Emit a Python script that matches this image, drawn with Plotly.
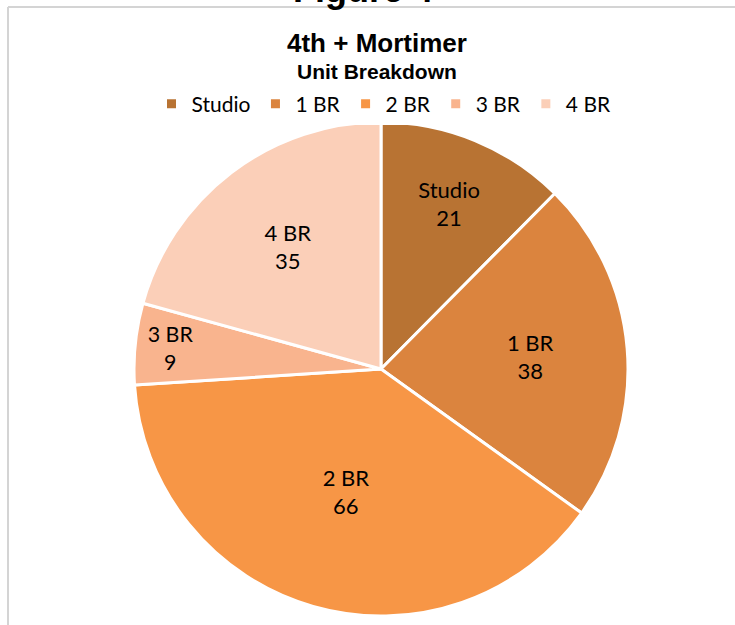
import plotly.graph_objects as go

categories = ["Studio", "1 BR", "2 BR", "3 BR", "4 BR"]
units = [21, 38, 66, 9, 35]
colors = ["#B87333", "#DB843E", "#F79646", "#F9B48E", "#FBCFB8"]

W, H = 735, 625

def px(x):
    return x / W

def py(y):
    return 1 - y / H

LABEL_FONT = "Lato, Carlito, Calibri, sans-serif"
TITLE_FONT = "Liberation Sans, Arial, sans-serif"

fig = go.Figure()
fig.add_trace(go.Pie(
    labels=categories,
    values=units,
    sort=False,
    direction="clockwise",
    rotation=0,
    marker=dict(colors=colors, line=dict(color="white", width=3)),
    texttemplate="%{label}<br>%{value}",
    textposition="inside",
    insidetextorientation="horizontal",
    textfont=dict(family=LABEL_FONT, size=22, color="black"),
    domain=dict(x=[px(134), px(628)], y=[py(616), py(122)]),
    hoverinfo="label+value",
))

fig.update_layout(
    width=W, height=H,
    margin=dict(l=0, r=0, t=0, b=0),
    paper_bgcolor="white",
    plot_bgcolor="white",
    showlegend=True,
    legend=dict(
        orientation="h",
        x=px(384), xanchor="center",
        y=py(104), yanchor="middle",
        font=dict(family=LABEL_FONT, size=21, color="black"),
        itemwidth=30,
        traceorder="normal",
    ),
    shapes=[
        dict(type="line", xref="paper", yref="paper", x0=px(8), x1=1.02, y0=py(7), y1=py(7),
             line=dict(color="#D4D4D4", width=2)),
        dict(type="line", xref="paper", yref="paper", x0=px(8), x1=px(8), y0=py(7), y1=-0.02,
             line=dict(color="#D4D4D4", width=2)),
    ],
    annotations=[
        dict(text="<b>Figure 4</b>", xref="paper", yref="paper", x=px(363), y=py(-10),
             xanchor="center", yanchor="middle", showarrow=False,
             font=dict(family=TITLE_FONT, size=36, color="black")),
        dict(text="<b>4th + Mortimer</b>", xref="paper", yref="paper", x=px(377), y=py(43),
             xanchor="center", yanchor="middle", showarrow=False,
             font=dict(family=TITLE_FONT, size=26, color="black")),
        dict(text="<b>Unit Breakdown</b>", xref="paper", yref="paper", x=px(377), y=py(71),
             xanchor="center", yanchor="middle", showarrow=False,
             font=dict(family=TITLE_FONT, size=21, color="black")),
    ],
)

fig.write_html("out.html", config={"displayModeBar": False},
               post_script="document.body.style.margin='0';")
